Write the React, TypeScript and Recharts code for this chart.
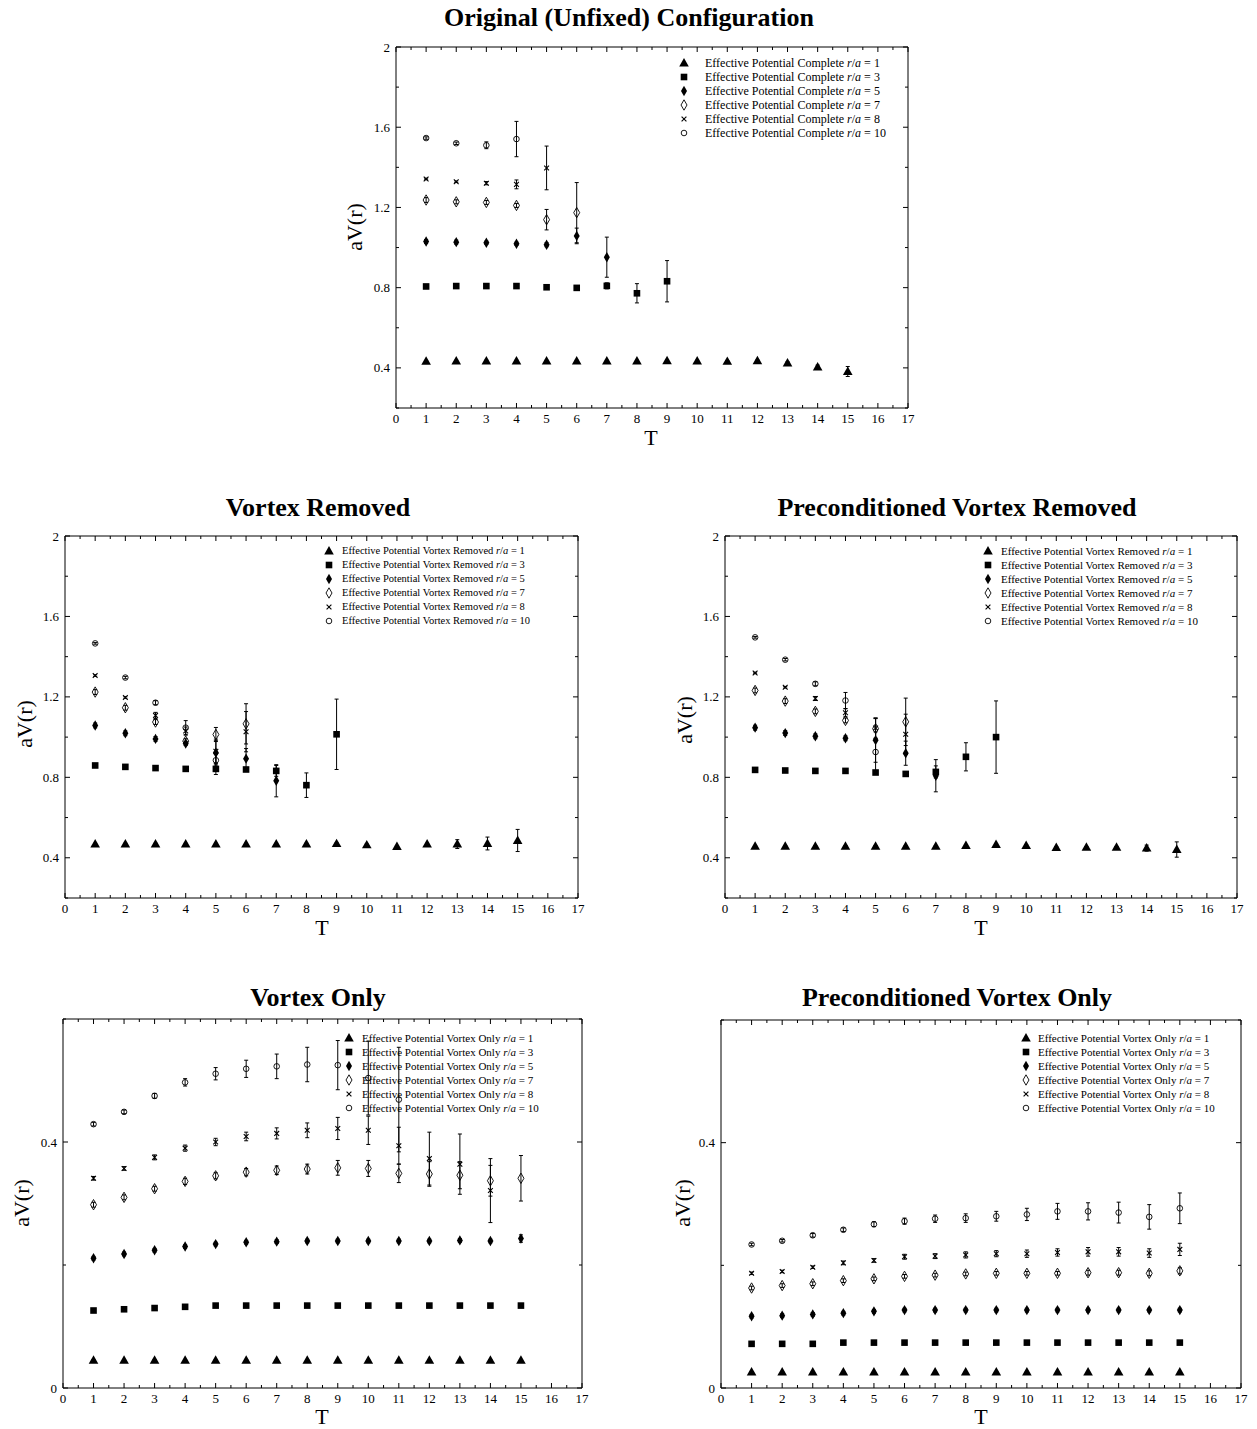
import React from "react";
import { ScatterChart, Scatter, XAxis, YAxis, ErrorBar, Legend } from "recharts";

// time extent T, one entry per measured point
const T = [1, 2, 3, 4, 5, 6, 7, 8, 9, 10, 11, 12, 13, 14, 15];
const radii = [1, 3, 5, 7, 8, 10];

const xTicks = [0, 0.5, 1, 1.5, 2, 2.5, 3, 3.5, 4, 4.5, 5, 5.5, 6, 6.5, 7, 7.5, 8, 8.5, 9, 9.5, 10, 10.5, 11, 11.5, 12, 12.5, 13, 13.5, 14, 14.5, 15, 15.5, 16, 16.5, 17];
const yTicksHigh = [0.2, 0.4, 0.6, 0.8, 1, 1.2, 1.4, 1.6, 1.8, 2];
const yTicksLow = [0, 0.2, 0.4, 0.6];

// Original (Unfixed) Configuration — rows are r/a = 1, 3, 5, 7, 8, 10
const origV = [
  [0.433, 0.434, 0.434, 0.434, 0.434, 0.434, 0.434, 0.434, 0.435, 0.434, 0.432, 0.435, 0.424, 0.404, 0.382],
  [0.806, 0.808, 0.808, 0.808, 0.802, 0.799, 0.809, 0.772, 0.832],
  [1.030, 1.027, 1.024, 1.019, 1.014, 1.058, 0.952],
  [1.237, 1.228, 1.225, 1.210, 1.139, 1.174],
  [1.342, 1.328, 1.321, 1.315, 1.397],
  [1.546, 1.520, 1.510, 1.541],
];
const origE = [
  [0.004, 0.004, 0.004, 0.004, 0.004, 0.004, 0.004, 0.004, 0.004, 0.004, 0.004, 0.004, 0.006, 0.01, 0.025],
  [0.005, 0.005, 0.005, 0.005, 0.005, 0.006, 0.015, 0.048, 0.103],
  [0.01, 0.01, 0.008, 0.008, 0.01, 0.039, 0.1],
  [0.012, 0.01, 0.01, 0.01, 0.051, 0.15],
  [0.004, 0.004, 0.008, 0.022, 0.109],
  [0.006, 0.006, 0.017, 0.088],
];

// Vortex Removed
const vrV = [
  [0.468, 0.468, 0.468, 0.468, 0.468, 0.468, 0.468, 0.468, 0.470, 0.464, 0.456, 0.468, 0.468, 0.471, 0.486],
  [0.859, 0.852, 0.846, 0.842, 0.842, 0.839, 0.832, 0.761, 1.014],
  [1.058, 1.019, 0.991, 0.968, 0.922, 0.893, 0.783],
  [1.224, 1.146, 1.075, 0.980, 1.013, 1.066],
  [1.306, 1.197, 1.108, 1.030, 0.930, 1.027],
  [1.466, 1.296, 1.171, 1.047, 0.885],
];
const vrE = [
  [0.004, 0.004, 0.004, 0.004, 0.004, 0.004, 0.004, 0.004, 0.004, 0.004, 0.004, 0.004, 0.022, 0.032, 0.055],
  [0.005, 0.005, 0.005, 0.005, 0.028, 0.008, 0.027, 0.061, 0.175],
  [0.012, 0.012, 0.012, 0.01, 0.06, 0.05, 0.08],
  [0.012, 0.012, 0.012, 0.012, 0.035, 0.1],
  [0.004, 0.004, 0.015, 0.02, 0.06, 0.1],
  [0.004, 0.006, 0.01, 0.035, 0.03],
];

// Preconditioned Vortex Removed
const pvrV = [
  [0.457, 0.457, 0.457, 0.457, 0.457, 0.457, 0.457, 0.461, 0.466, 0.461, 0.451, 0.452, 0.452, 0.448, 0.441],
  [0.837, 0.834, 0.832, 0.832, 0.824, 0.817, 0.827, 0.902, 1.000],
  [1.047, 1.020, 1.004, 0.994, 0.985, 0.920, 0.808],
  [1.232, 1.179, 1.128, 1.083, 1.042, 1.076],
  [1.319, 1.248, 1.192, 1.121, 1.045, 1.014],
  [1.496, 1.385, 1.265, 1.182, 0.926],
];
const pvrE = [
  [0.004, 0.004, 0.004, 0.004, 0.004, 0.004, 0.004, 0.004, 0.004, 0.004, 0.004, 0.004, 0.004, 0.015, 0.038],
  [0.005, 0.005, 0.005, 0.005, 0.005, 0.006, 0.03, 0.07, 0.18],
  [0.012, 0.012, 0.012, 0.012, 0.11, 0.06, 0.08],
  [0.012, 0.012, 0.012, 0.012, 0.05, 0.118],
  [0.004, 0.004, 0.01, 0.02, 0.05, 0.1],
  [0.004, 0.006, 0.01, 0.04, 0.1],
];

// Vortex Only
const voV = [
  [0.045, 0.045, 0.045, 0.045, 0.045, 0.045, 0.045, 0.045, 0.045, 0.045, 0.045, 0.045, 0.045, 0.045, 0.045],
  [0.126, 0.128, 0.130, 0.132, 0.134, 0.134, 0.134, 0.134, 0.134, 0.134, 0.134, 0.134, 0.134, 0.134, 0.134],
  [0.211, 0.218, 0.224, 0.230, 0.234, 0.237, 0.238, 0.239, 0.239, 0.239, 0.239, 0.239, 0.240, 0.239, 0.243],
  [0.298, 0.310, 0.324, 0.336, 0.345, 0.351, 0.354, 0.356, 0.358, 0.357, 0.349, 0.348, 0.346, 0.337, 0.341],
  [0.341, 0.357, 0.375, 0.390, 0.400, 0.409, 0.414, 0.419, 0.422, 0.419, 0.394, 0.373, 0.364, 0.321],
  [0.429, 0.449, 0.475, 0.497, 0.511, 0.519, 0.523, 0.526, 0.525, 0.504, 0.469],
];
const voE = [
  [0.001, 0.001, 0.001, 0.001, 0.001, 0.001, 0.001, 0.001, 0.001, 0.001, 0.001, 0.001, 0.001, 0.001, 0.001],
  [0.001, 0.001, 0.001, 0.001, 0.001, 0.001, 0.001, 0.001, 0.001, 0.001, 0.001, 0.001, 0.001, 0.001, 0.001],
  [0.003, 0.003, 0.003, 0.003, 0.003, 0.003, 0.003, 0.003, 0.003, 0.003, 0.003, 0.003, 0.003, 0.003, 0.006],
  [0.004, 0.004, 0.004, 0.005, 0.005, 0.006, 0.007, 0.008, 0.012, 0.013, 0.015, 0.02, 0.022, 0.025, 0.037],
  [0.003, 0.003, 0.004, 0.005, 0.006, 0.007, 0.009, 0.012, 0.018, 0.023, 0.03, 0.043, 0.049, 0.052],
  [0.003, 0.003, 0.004, 0.006, 0.01, 0.014, 0.02, 0.028, 0.04, 0.06, 0.085],
];

// Preconditioned Vortex Only
const pvoV = [
  [0.026, 0.026, 0.026, 0.026, 0.026, 0.026, 0.026, 0.026, 0.026, 0.026, 0.026, 0.026, 0.026, 0.026, 0.026],
  [0.072, 0.072, 0.072, 0.074, 0.074, 0.074, 0.074, 0.074, 0.074, 0.074, 0.074, 0.074, 0.074, 0.074, 0.074],
  [0.117, 0.118, 0.120, 0.122, 0.125, 0.127, 0.127, 0.127, 0.127, 0.127, 0.127, 0.127, 0.127, 0.127, 0.127],
  [0.163, 0.167, 0.170, 0.175, 0.178, 0.182, 0.184, 0.186, 0.187, 0.187, 0.187, 0.188, 0.188, 0.187, 0.191],
  [0.187, 0.190, 0.197, 0.204, 0.208, 0.214, 0.215, 0.217, 0.219, 0.219, 0.221, 0.222, 0.222, 0.220, 0.226],
  [0.234, 0.240, 0.249, 0.258, 0.267, 0.272, 0.276, 0.277, 0.280, 0.283, 0.288, 0.288, 0.286, 0.279, 0.293],
];
const pvoE = [
  [0.001, 0.001, 0.001, 0.001, 0.001, 0.001, 0.001, 0.001, 0.001, 0.001, 0.001, 0.001, 0.001, 0.001, 0.001],
  [0.001, 0.001, 0.001, 0.001, 0.001, 0.001, 0.001, 0.001, 0.001, 0.001, 0.001, 0.001, 0.001, 0.001, 0.001],
  [0.003, 0.003, 0.003, 0.003, 0.003, 0.003, 0.003, 0.003, 0.003, 0.003, 0.003, 0.003, 0.003, 0.003, 0.003],
  [0.003, 0.003, 0.003, 0.003, 0.003, 0.003, 0.003, 0.003, 0.003, 0.003, 0.003, 0.004, 0.004, 0.004, 0.005],
  [0.002, 0.002, 0.002, 0.003, 0.003, 0.004, 0.004, 0.005, 0.005, 0.006, 0.006, 0.007, 0.007, 0.007, 0.01],
  [0.002, 0.002, 0.003, 0.003, 0.004, 0.005, 0.006, 0.007, 0.008, 0.01, 0.013, 0.014, 0.017, 0.02, 0.025],
];

const SERIF = '"Liberation Serif", "DejaVu Serif", serif';
const MARKERS = ["triangle", "square", "fdiamond", "odiamond", "cross", "circle"];

function Marker({ kind, cx, cy }: { kind: string; cx?: number; cy?: number }) {
  if (cx == null || cy == null) return null;
  switch (kind) {
    case "triangle":
      return <polygon points={`${cx},${cy - 5} ${cx - 4.8},${cy + 3.4} ${cx + 4.8},${cy + 3.4}`} fill="#000" />;
    case "square":
      return <rect x={cx - 3.3} y={cy - 3.3} width={6.6} height={6.6} fill="#000" />;
    case "fdiamond":
      return <polygon points={`${cx},${cy - 5.2} ${cx + 3},${cy} ${cx},${cy + 5.2} ${cx - 3},${cy}`} fill="#000" />;
    case "odiamond":
      return <polygon points={`${cx},${cy - 5.2} ${cx + 3},${cy} ${cx},${cy + 5.2} ${cx - 3},${cy}`} fill="none" stroke="#000" strokeWidth={0.9} />;
    case "cross":
      return (
        <g stroke="#000" strokeWidth={1.1}>
          <line x1={cx - 2.4} y1={cy - 2.4} x2={cx + 2.4} y2={cy + 2.4} />
          <line x1={cx - 2.4} y1={cy + 2.4} x2={cx + 2.4} y2={cy - 2.4} />
        </g>
      );
    default:
      return <circle cx={cx} cy={cy} r={2.8} fill="none" stroke="#000" strokeWidth={0.9} />;
  }
}

const isMajorY = (v: number) => Math.round(v * 10) % 4 === 0;

const makeXTick = (side: "bottom" | "top") => (props: any) => {
  const { x, y, payload } = props;
  const v = payload.value as number;
  const major = Number.isInteger(v);
  const len = major ? 5 : 3;
  const dir = side === "bottom" ? -1 : 1;
  return (
    <g>
      <line x1={x} x2={x} y1={y} y2={y + dir * len} stroke="#000" />
      {side === "bottom" && major && (
        <text x={x} y={y + 15} textAnchor="middle" fontSize={13} fontFamily={SERIF} fill="#000">
          {v}
        </text>
      )}
    </g>
  );
};

const makeYTick = (side: "left" | "right") => (props: any) => {
  const { x, y, payload } = props;
  const v = payload.value as number;
  const major = isMajorY(v);
  const len = major ? 5 : 3;
  const dir = side === "left" ? 1 : -1;
  return (
    <g>
      <line x1={x} x2={x + dir * len} y1={y} y2={y} stroke="#000" />
      {side === "left" && major && (
        <text x={x - 6} y={y + 4.5} textAnchor="end" fontSize={13} fontFamily={SERIF} fill="#000">
          {v}
        </text>
      )}
    </g>
  );
};

const bottomTick = makeXTick("bottom");
const topTick = makeXTick("top");
const leftTick = makeYTick("left");
const rightTick = makeYTick("right");

type Panel = {
  title: string;
  label: string;
  vals: number[][];
  errs: number[][];
  plot: { x: number; y: number; w: number; h: number };
  yDomain: [number, number];
  yTicks: number[];
  titleX: number;
  titleY: number;
  yLabel: [number, number];
  xLabel: [number, number];
  legend: { sx: number; tx: number; y: number; size: number };
};

const panels: Panel[] = [
  {
    title: "Original (Unfixed) Configuration", label: "Complete", vals: origV, errs: origE,
    plot: { x: 396, y: 47, w: 512, h: 361 }, yDomain: [0.2, 2], yTicks: yTicksHigh,
    titleX: 629, titleY: 18, yLabel: [355, 227], xLabel: [651, 438], legend: { sx: 684, tx: 705, y: 62.5, size: 12 },
  },
  {
    title: "Vortex Removed", label: "Vortex Removed", vals: vrV, errs: vrE,
    plot: { x: 65, y: 536, w: 513, h: 362 }, yDomain: [0.2, 2], yTicks: yTicksHigh,
    titleX: 318, titleY: 508, yLabel: [25, 724], xLabel: [322, 928], legend: { sx: 329, tx: 342, y: 551, size: 10.5 },
  },
  {
    title: "Preconditioned Vortex Removed", label: "Vortex Removed", vals: pvrV, errs: pvrE,
    plot: { x: 725, y: 536, w: 512, h: 362 }, yDomain: [0.2, 2], yTicks: yTicksHigh,
    titleX: 957, titleY: 508, yLabel: [685, 720], xLabel: [981, 928], legend: { sx: 988, tx: 1001, y: 551, size: 11 },
  },
  {
    title: "Vortex Only", label: "Vortex Only", vals: voV, errs: voE,
    plot: { x: 63, y: 1019, w: 519, h: 369 }, yDomain: [0, 0.6], yTicks: yTicksLow,
    titleX: 318, titleY: 998, yLabel: [22, 1203], xLabel: [322, 1417], legend: { sx: 349, tx: 362, y: 1038, size: 11 },
  },
  {
    title: "Preconditioned Vortex Only", label: "Vortex Only", vals: pvoV, errs: pvoE,
    plot: { x: 721, y: 1020, w: 520, h: 368 }, yDomain: [0, 0.6], yTicks: yTicksLow,
    titleX: 957, titleY: 998, yLabel: [683, 1203], xLabel: [981, 1417], legend: { sx: 1026, tx: 1038, y: 1038, size: 11 },
  },
];

const PAD_L = 60;
const PAD_T = 10;
const PAD_R = 10;
const PAD_B = 30;

function LegendBox({ label, gap, size }: { label: string; gap: number; size: number }) {
  return (
    <div style={{ fontFamily: SERIF, fontSize: size, color: "#000", lineHeight: "14px" }}>
      {radii.map((r, i) => (
        <div key={r} style={{ display: "flex", alignItems: "center", height: 14, whiteSpace: "nowrap" }}>
          <svg width={gap + 7} height={14} style={{ flex: "none" }}>
            <Marker kind={MARKERS[i]} cx={7} cy={7} />
          </svg>
          <span>
            Effective Potential {label} <i>r</i>/<i>a</i> = {r}
          </span>
        </div>
      ))}
    </div>
  );
}

function PanelChart({ p }: { p: Panel }) {
  const W = p.plot.w + PAD_L + PAD_R;
  const H = p.plot.h + PAD_T + PAD_B;
  const left = p.plot.x - PAD_L;
  const top = p.plot.y - PAD_T;
  const series = p.vals.map((row, i) => row.map((v, j) => ({ T: T[j], v, err: p.errs[i][j] })));
  return (
    <>
      <div
        style={{
          position: "absolute", left: p.titleX, top: p.titleY, transform: "translate(-50%, -50%)",
          fontFamily: SERIF, fontWeight: "bold", fontSize: 26, whiteSpace: "nowrap", lineHeight: "30px",
        }}
      >
        {p.title}
      </div>
      <div
        style={{
          position: "absolute", left: p.yLabel[0], top: p.yLabel[1],
          transform: "translate(-50%, -50%) rotate(-90deg)", fontFamily: SERIF, fontSize: 22,
          whiteSpace: "nowrap", lineHeight: "24px",
        }}
      >
        aV(r)
      </div>
      <div
        style={{
          position: "absolute", left: p.xLabel[0], top: p.xLabel[1], transform: "translate(-50%, -50%)",
          fontFamily: SERIF, fontSize: 22, lineHeight: "24px",
        }}
      >
        T
      </div>
      <div style={{ position: "absolute", left, top }}>
        {/* mirror axes (top/right) need 1px of room, otherwise recharts skips them */}
        <ScatterChart width={W} height={H} margin={{ top: PAD_T - 1, right: PAD_R - 1, bottom: 0, left: 0 }}>
          <XAxis
            type="number" dataKey="T" domain={[0, 17]} ticks={xTicks} interval={0} allowDataOverflow
            height={PAD_B} tickSize={0} tickMargin={0} tickLine={false} tick={bottomTick}
            axisLine={{ stroke: "#000" }}
          />
          <XAxis
            xAxisId="top" orientation="top" type="number" dataKey="T" domain={[0, 17]} ticks={xTicks}
            interval={0} allowDataOverflow height={1} tickSize={0} tickMargin={0} tickLine={false}
            tick={topTick} axisLine={{ stroke: "#000" }}
          />
          <YAxis
            type="number" dataKey="v" domain={p.yDomain} ticks={p.yTicks} interval={0} allowDataOverflow
            width={PAD_L} tickSize={0} tickMargin={0} tickLine={false} tick={leftTick}
            axisLine={{ stroke: "#000" }}
          />
          <YAxis
            yAxisId="right" orientation="right" type="number" dataKey="v" domain={p.yDomain} ticks={p.yTicks}
            interval={0} allowDataOverflow width={1} tickSize={0} tickMargin={0} tickLine={false}
            tick={rightTick} axisLine={{ stroke: "#000" }}
          />
          {series.map((data, i) => (
            <Scatter
              key={radii[i]}
              name={`r/a = ${radii[i]}`}
              data={data}
              isAnimationActive={false}
              shape={(s: any) => <Marker kind={MARKERS[i]} cx={s.cx} cy={s.cy} />}
            >
              <ErrorBar dataKey="err" direction="y" width={2} stroke="#000" strokeWidth={1} isAnimationActive={false} />
            </Scatter>
          ))}
          <Legend
            layout="vertical"
            align="center"
            verticalAlign="middle"
            wrapperStyle={{ left: p.legend.sx - 7 - left, top: p.legend.y - 7 - top, width: "auto", height: "auto" }}
            content={() => <LegendBox label={p.label} gap={p.legend.tx - p.legend.sx} size={p.legend.size} />}
          />
        </ScatterChart>
      </div>
    </>
  );
}

export default function App() {
  return (
    <div style={{ position: "absolute", left: 0, top: 0, width: 1257, height: 1429, background: "#fff" }}>
      {panels.map((p) => (
        <PanelChart key={p.title} p={p} />
      ))}
    </div>
  );
}
